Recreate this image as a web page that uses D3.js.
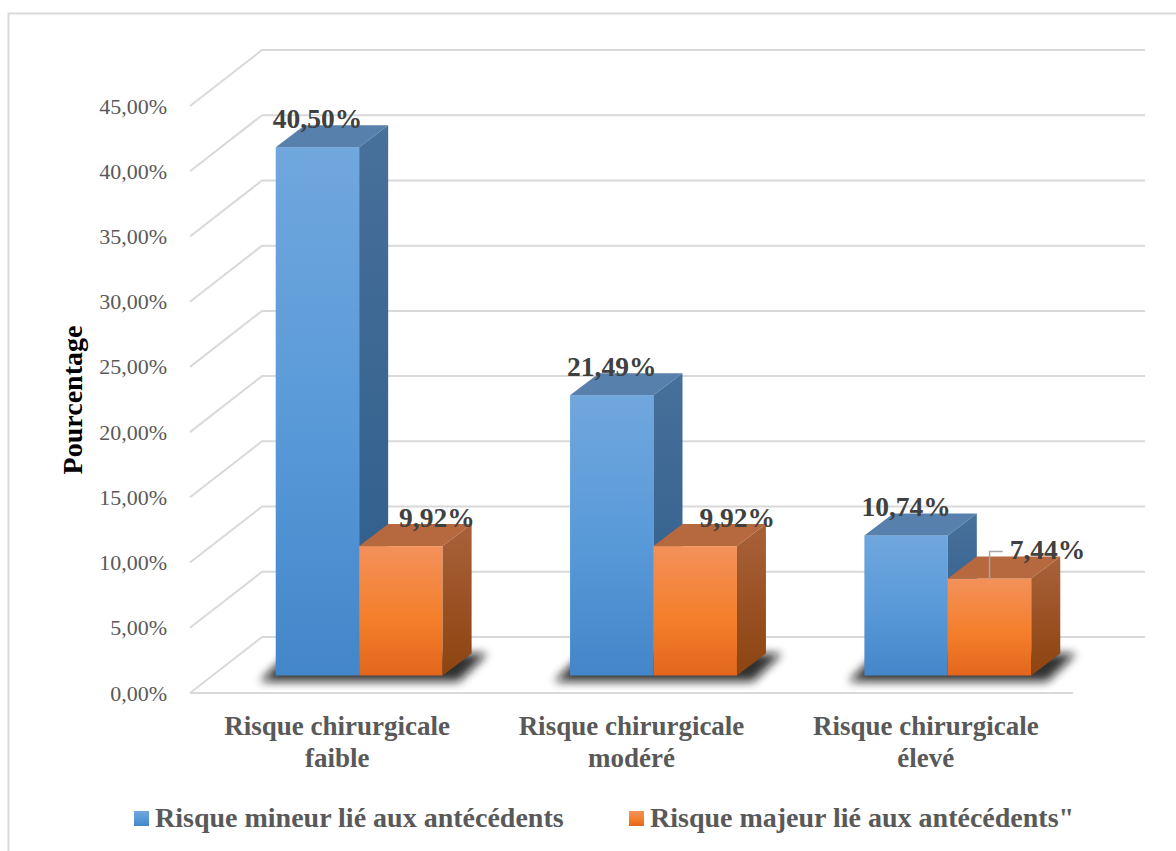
<!DOCTYPE html>
<html>
<head>
<meta charset="utf-8">
<script src="https://cdn.jsdelivr.net/npm/d3@7"></script>
<style>
  body { margin: 0; background: #fff; }
  text { font-family: "Liberation Serif", "Times New Roman", serif; }
</style>
</head>
<body>
<svg id="chart"></svg>
<script>
const categories = ['Risque chirurgicale\nfaible', 'Risque chirurgicale\nmodéré', 'Risque chirurgicale\nélevé']
const series = ['Risque mineur lié aux antécédents', 'Risque majeur lié aux antécédents"']
const mineur = [40.50, 21.49, 10.74]
const majeur = [9.92, 9.92, 7.44]
const yTicks = [0, 5, 10, 15, 20, 25, 30, 35, 40, 45]

const width = 1176
const height = 851

// 3d projection: full depth of the floor and where the bars sit in it
const depth = { dx: 72, dy: -56 }
const barFront = { dx: 22, dy: -17.5 }
const barDepth = { dx: 29, dy: -22 }
// label nudges for the orange series (manually moved labels in the original)
const majeurNudge = [36, 42, 58]

const colours = {
  grid: '#d9d9d9',
  axisText: '#595959',
  labelText: '#404040'
}

const fmt = v => d3.format('.2f')(v).replace('.', ',') + '%'

const svg = d3.select('#chart')
  .attr('width', width)
  .attr('height', height)

const defs = svg.append('defs')
const grad = (id, stops) => {
  const g = defs.append('linearGradient').attr('id', id)
    .attr('x1', 0).attr('y1', 0).attr('x2', 0).attr('y2', 1)
  stops.forEach(([o, c]) => g.append('stop').attr('offset', o).attr('stop-color', c))
}
grad('blueFront', [[0, '#70a7dd'], [0.5, '#5a9ad9'], [1, '#4386c9']])
grad('blueSide', [[0, '#47709a'], [1, '#2d5c8a']])
grad('orangeFront', [[0, '#f3915b'], [0.55, '#f47f2b'], [1, '#e2671c']])
grad('orangeSide', [[0, '#a9613a'], [1, '#8c4410']])
defs.append('filter').attr('id', 'blur')
  .attr('x', '-50%').attr('y', '-50%').attr('width', '200%').attr('height', '200%')
  .append('feGaussianBlur').attr('stdDeviation', 5)

const faces = [
  { front: 'url(#blueFront)', side: 'url(#blueSide)', top: '#5880ad' },
  { front: 'url(#orangeFront)', side: 'url(#orangeSide)', top: '#b6683e' }
]

// frame
svg.append('rect')
  .attr('x', 8.5).attr('y', 13.5)
  .attr('width', 1250).attr('height', 900)
  .attr('fill', 'none')
  .attr('stroke', colours.grid)
  .attr('stroke-width', 2)

const y = d3.scaleLinear().domain([0, 45]).range([693, 106])
const x = d3.scaleBand().domain(categories).range([190, 1073])
  .paddingInner(0.433).paddingOuter(0.2165)
const xs = d3.scaleBand().domain(series).range([0, x.bandwidth()])

// gridlines: left wall diagonal + back wall line
const [x0, x1] = x.range()
svg.append('g')
  .selectAll('path')
  .data(yTicks)
  .enter()
  .append('path')
  .attr('d', t => `M${x0},${y(t)}L${x0 + depth.dx},${y(t) + depth.dy}L${x1 + depth.dx},${y(t) + depth.dy}`)
  .attr('fill', 'none')
  .attr('stroke', colours.grid)
  .attr('stroke-width', 2)
svg.append('path')
  .attr('d', `M${x0},${y(0)}L${x1},${y(0)}`)
  .attr('stroke', colours.grid)
  .attr('stroke-width', 2)

// y tick labels
svg.append('g')
  .selectAll('text')
  .data(yTicks)
  .enter()
  .append('text')
  .attr('x', 167)
  .attr('y', t => y(t) + 7.5)
  .attr('text-anchor', 'end')
  .attr('font-size', 22)
  .attr('fill', colours.axisText)
  .text(t => fmt(t))

// y title
svg.append('text')
  .attr('transform', 'translate(82,400) rotate(-90)')
  .attr('text-anchor', 'middle')
  .attr('font-size', 28)
  .attr('font-weight', 'bold')
  .attr('fill', '#000')
  .text('Pourcentage')

const values = [mineur, majeur]
const baseY = y(0) + barFront.dy

// floor shadows under each pair of bars
categories.forEach(c => {
  const l = x(c) + barFront.dx - 16
  const r = x(c) + x.bandwidth() + barFront.dx + 16
  svg.append('path')
    .attr('d', `M${l},${baseY + 6}L${r},${baseY + 6}L${r + barDepth.dx},${baseY + barDepth.dy}L${l + barDepth.dx},${baseY + barDepth.dy}Z`)
    .attr('fill', '#111')
    .attr('opacity', 0.85)
    .attr('filter', 'url(#blur)')
})

const bars = svg.append('g')
const labels = svg.append('g')

categories.forEach((c, ci) => {
  series.forEach((s, si) => {
    const v = values[si][ci]
    const w = xs.bandwidth()
    const fx = x(c) + xs(s) + barFront.dx
    const top = y(v) + barFront.dy
    const f = faces[si]
    const g = bars.append('g')
    g.append('rect')
      .attr('x', fx).attr('y', top)
      .attr('width', w).attr('height', baseY - top)
      .attr('fill', f.front)
    g.append('path')
      .attr('d', `M${fx},${top}L${fx + w},${top}L${fx + w + barDepth.dx},${top + barDepth.dy}L${fx + barDepth.dx},${top + barDepth.dy}Z`)
      .attr('fill', f.top)
    g.append('path')
      .attr('d', `M${fx + w},${top}L${fx + w + barDepth.dx},${top + barDepth.dy}L${fx + w + barDepth.dx},${baseY + barDepth.dy}L${fx + w},${baseY}Z`)
      .attr('fill', f.side)

    const lx = fx + w / 2 + (si === 1 ? majeurNudge[ci] : 0)
    const ly = top + barDepth.dy + 3
    const t = labels.append('text')
      .attr('x', lx).attr('y', ly)
      .attr('text-anchor', 'middle')
      .attr('font-size', 27.5)
      .attr('font-weight', 'bold')
      .attr('fill', colours.labelText)
      .text(fmt(v))
    // leader line where the label was dragged away from the bar
    if (si === 1 && ci === 2) {
      const left = lx - t.node().getComputedTextLength() / 2 - 7
      labels.append('path')
        .attr('d', `M${fx + w / 2},${top}V${ly - 8}H${left}`)
        .attr('fill', 'none')
        .attr('stroke', '#a6a6a6')
        .attr('stroke-width', 1.5)
    }
  })
})

// category labels
svg.append('g')
  .selectAll('text')
  .data(categories)
  .enter()
  .append('text')
  .attr('text-anchor', 'middle')
  .attr('font-size', 27)
  .attr('font-weight', 'bold')
  .attr('fill', colours.axisText)
  .each(function (c) {
    c.split('\n').forEach((line, i) => {
      d3.select(this).append('tspan')
        .attr('x', x(c) + x.bandwidth() / 2)
        .attr('y', 735 + i * 32)
        .text(line)
    })
  })

// legend
const legendX = [134, 629]
const legend = svg.append('g')
series.forEach((s, i) => {
  legend.append('rect')
    .attr('x', legendX[i]).attr('y', 811)
    .attr('width', 15).attr('height', 15)
    .attr('fill', faces[i].front)
  legend.append('text')
    .attr('x', legendX[i] + 21).attr('y', 827)
    .attr('font-size', 28)
    .attr('font-weight', 'bold')
    .attr('fill', colours.axisText)
    .text(s)
})
</script>
</body>
</html>
